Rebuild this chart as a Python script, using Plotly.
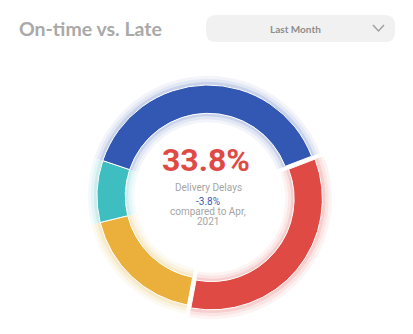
import plotly.graph_objects as go

labels = ["Late", "Early", "Other", "On-time"]
values = [33.8, 18.2, 9.0, 39.0]
colors = ["#e04a45", "#ebb03b", "#3ebec1", "#3358b4"]
pulls = [0.04, 0, 0, 0]

title_text = "On-time vs. Late"
dropdown_text = "Last Month"
kpi_value = "33.8%"
kpi_label = "Delivery Delays"
delta_text = "-3.8%"
compare_lines = ["compared to Apr,", "2021"]

W, H = 413, 334
cx, cy = 208, 196
R = 111
hole = 0.745

fig = go.Figure()

def dom(r):
    return dict(x=[(cx - r) / W, (cx + r) / W], y=[(H - cy - r) / H, (H - cy + r) / H])

# glow layers
for k, op in [(9, 0.06), (6, 0.08), (3, 0.14)]:
    rr = (R + k) * 1.04
    inner = R * hole - k
    fig.add_trace(go.Pie(
        labels=labels, values=values, sort=False, direction="clockwise", rotation=69,
        marker=dict(colors=colors, line=dict(width=0)), hole=inner / (R + k),
        domain=dom(rr), pull=pulls, opacity=op, textinfo="none", hoverinfo="skip",
        showlegend=False))

fig.add_trace(go.Pie(
    labels=labels, values=values, sort=False, direction="clockwise", rotation=69,
    marker=dict(colors=colors, line=dict(color="white", width=1)), hole=hole,
    domain=dom(R * 1.04), pull=pulls, textinfo="none", showlegend=False))

fig.add_annotation(x=17, y=H - 28, xref="x", yref="y", text=title_text, showarrow=False,
                   xanchor="left", yanchor="middle",
                   font=dict(family="Lato", size=19.5, color="#a9a9a9", weight="bold"))

# rounded dropdown box
x0, x1, y0, y1, r = 206, 395, H - 42, H - 15, 10
path = (f"M {x0+r} {y0} L {x1-r} {y0} Q {x1} {y0} {x1} {y0+r} L {x1} {y1-r} Q {x1} {y1} {x1-r} {y1} "
        f"L {x0+r} {y1} Q {x0} {y1} {x0} {y1-r} L {x0} {y0+r} Q {x0} {y0} {x0+r} {y0} Z")
fig.add_shape(type="path", path=path, xref="x", yref="y",
              fillcolor="#f1f1f1", line=dict(width=0), layer="below")
fig.add_annotation(x=295, y=H - 29, xref="x", yref="y", text=dropdown_text, showarrow=False,
                   font=dict(family="Lato", size=10, color="#8e8e8e", weight="bold"))
fig.add_shape(type="path", path=f"M 373 {H-25} L 378.5 {H-31} L 384 {H-25}", xref="x", yref="y",
              line=dict(color="#a0a0a0", width=1.5))

fig.add_annotation(x=cx - 2, y=H - 160, xref="x", yref="y", text=kpi_value, showarrow=False,
                   font=dict(family="Roboto", size=32, color="#e04a45", weight="bold"))
fig.add_annotation(x=cx, y=H - 187, xref="x", yref="y", text=kpi_label, showarrow=False,
                   font=dict(family="Roboto", size=10, color="#a5a5a5"))
fig.add_annotation(x=cx, y=H - 201, xref="x", yref="y", text=delta_text, showarrow=False,
                   font=dict(family="Roboto", size=10, color="#3a5bb0"))
for i, line in enumerate(compare_lines):
    fig.add_annotation(x=cx, y=H - 211.5 - 10 * i, xref="x", yref="y", text=line, showarrow=False,
                       font=dict(family="Roboto", size=10, color="#a5a5a5"))

fig.update_layout(
    width=W, height=H, margin=dict(l=0, r=0, t=0, b=0),
    paper_bgcolor="white", plot_bgcolor="rgba(0,0,0,0)",
    xaxis=dict(range=[0, W], visible=False, fixedrange=True),
    yaxis=dict(range=[0, H], visible=False, fixedrange=True),
    showlegend=False,
)
fig.write_html("out.html")
